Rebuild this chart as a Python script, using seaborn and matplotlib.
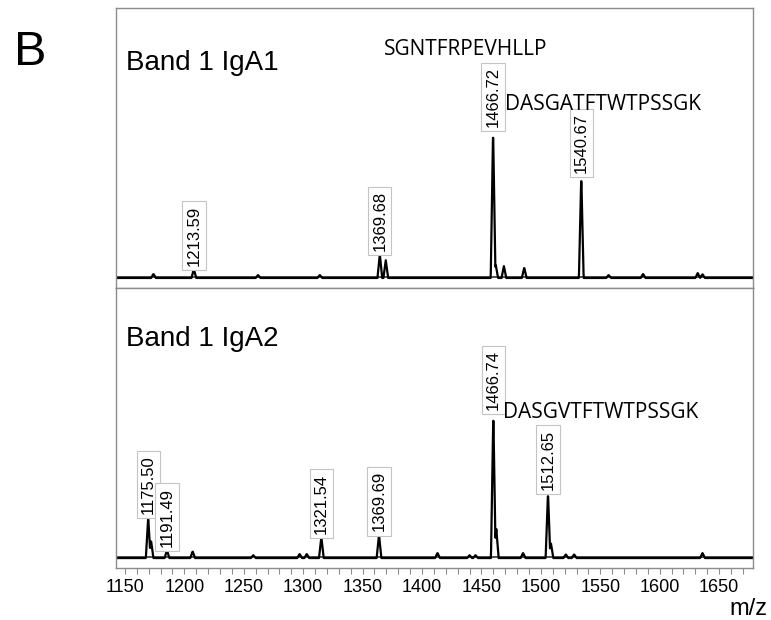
import numpy as np
import pandas as pd
import matplotlib
matplotlib.use('Agg')
import matplotlib.pyplot as plt
import seaborn as sns
from matplotlib.ticker import MultipleLocator

sns.set_style('white')
plt.rcParams['font.family'] = ['Liberation Sans', 'DejaVu Sans']
plt.rcParams['text.color'] = 'black'
plt.rcParams['xtick.labelcolor'] = 'black'

# 피크 데이터 (그림에서 읽은 값, 1466 피크 = 100)
# 위쪽 패널: Band 1 IgA1
top_mz = [1174, 1208, 1262, 1314, 1364.5, 1369.5, 1459.8, 1462, 1468.9, 1486, 1534, 1557, 1586, 1632, 1636]
top_int = [2.7, 6, 2, 2, 16, 12, 100, 9, 8, 7, 69, 2, 2.7, 3.4, 2.5]
top_label_mz = [1208, 1364.5, 1459.8, 1534]
top_label_int = [6, 16, 100, 69]
top_labels = ['1213.59', '1369.68', '1466.72', '1540.67']

# 아래쪽 패널: Band 1 IgA2
bot_mz = [1169.6, 1172, 1185.4, 1207, 1258, 1297, 1303, 1315.3, 1363.8, 1413, 1440, 1445,
          1460, 1462.5, 1485, 1506, 1508.5, 1521, 1528, 1636]
bot_int = [28, 12, 5.5, 4.6, 2, 2.8, 2.8, 14.5, 16, 3.5, 2, 2,
           100, 20, 3.5, 45, 10, 2.5, 2.5, 3.5]
bot_label_mz = [1169.6, 1185.4, 1315.3, 1363.8, 1460, 1506]
bot_label_int = [28, 5.5, 14.5, 16, 100, 45]
bot_labels = ['1175.50', '1191.49', '1321.54', '1369.69', '1466.74', '1512.65']

x_min, x_max = 1142.5, 1678.5
grid = np.arange(x_min, x_max, 0.2)
spine_col = '#8c8c8c'


def profile(mz, inten, w=2.0):
    # 피크 리스트를 좁은 삼각형 모양으로 그리기
    y = np.zeros_like(grid)
    for m, h in zip(mz, inten):
        y = np.maximum(y, h * np.clip(1 - np.abs(grid - m) / w, 0, None))
    return pd.DataFrame({'mz': grid, 'intensity': y})


fig, axes = plt.subplots(2, 1, figsize=(7.71, 6.2), dpi=100, sharex=True)
fig.subplots_adjust(left=116/771, right=753/771, top=1-8/620, bottom=1-568/620, hspace=0)

panels = [
    (axes[0], top_mz, top_int, top_label_mz, top_label_int, top_labels, 'Band 1 IgA1', (-6.8, 183)),
    (axes[1], bot_mz, bot_int, bot_label_mz, bot_label_int, bot_labels, 'Band 1 IgA2', (-6.9, 187)),
]

for ax, mz, inten, lmz, lint, labs, title, ylim in panels:
    df = profile(mz, inten)
    sns.lineplot(data=df, x='mz', y='intensity', ax=ax, color='black', lw=1.6,
                 estimator=None, sort=False)
    ax.axhline(0.6, color='#333333', lw=1.2, zorder=1)
    ax.set_xlim(x_min, x_max)
    ax.set_ylim(*ylim)
    ax.set_xlabel('')
    ax.set_ylabel('')
    ax.set_yticks([])
    for s in ax.spines.values():
        s.set_color(spine_col)
        s.set_linewidth(1.0)
    for m, h, t in zip(lmz, lint, labs):
        ax.annotate(t, xy=(m, h), xytext=(0, 2.5), textcoords='offset points',
                    rotation=90, ha='center', va='bottom', fontsize=12,
                    bbox=dict(boxstyle='square,pad=0.25', fc='white', ec='#c4c4c4', lw=0.8))

axes[0].text(0.016, 0.778, 'Band 1 IgA1', transform=axes[0].transAxes, fontsize=20, va='baseline')
axes[1].text(0.016, 0.794, 'Band 1 IgA2', transform=axes[1].transAxes, fontsize=20, va='baseline')

seq_font = ['Open Sans', 'DejaVu Sans']
axes[0].text((384-116)/637, (287-55)/279, 'SGNTFRPEVHLLP', transform=axes[0].transAxes,
             fontsize=15, family=seq_font, va='baseline')
axes[0].text((505-116)/637, (287-110)/279, 'DASGATFTWTPSSGK', transform=axes[0].transAxes,
             fontsize=15, family=seq_font, va='baseline')
axes[1].text((503-116)/637, (568-417)/281, 'DASGVTFTWTPSSGK', transform=axes[1].transAxes,
             fontsize=15, family=seq_font, va='baseline')

axes[0].tick_params(axis='x', which='both', bottom=False, labelbottom=False)
ax = axes[1]
ax.xaxis.set_major_locator(MultipleLocator(50))
ax.xaxis.set_minor_locator(MultipleLocator(10))
ax.tick_params(axis='x', which='both', bottom=True, direction='out', color=spine_col,
               length=4, width=0.8, labelsize=13, pad=4)

fig.text(767/771, 1-615/620, 'm/z', ha='right', va='baseline', fontsize=17)
fig.text(14/771, 1-65/620, 'B', ha='left', va='baseline', fontsize=35)

fig.savefig('out.png', dpi=100)
